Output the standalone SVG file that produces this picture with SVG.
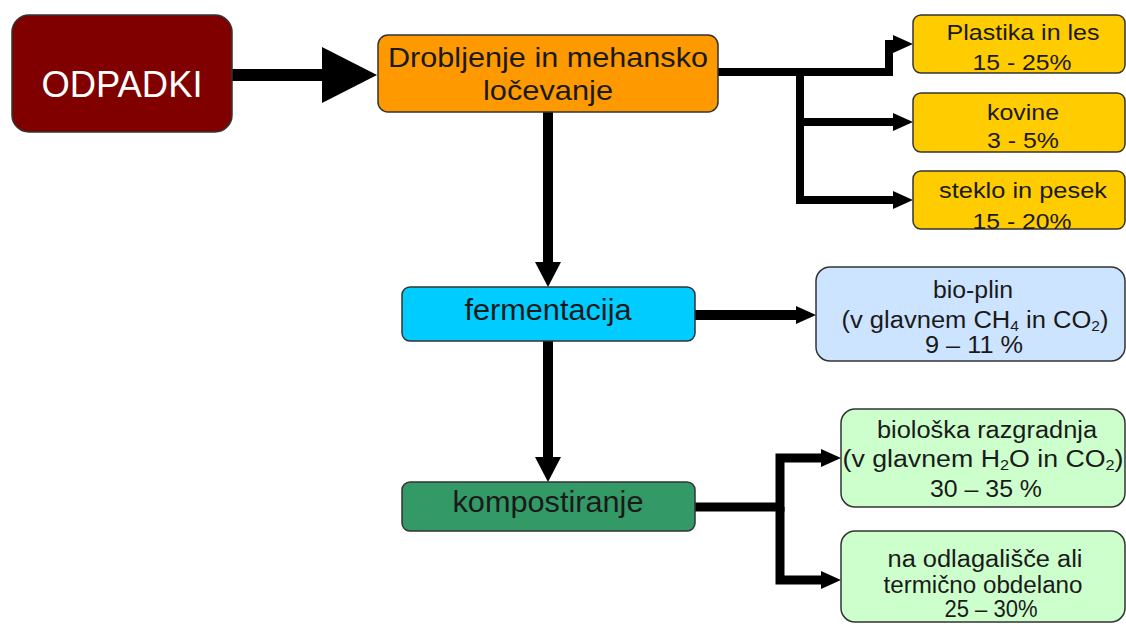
<svg xmlns="http://www.w3.org/2000/svg" width="1126" height="624" viewBox="0 0 1126 624">
<style>
.box{stroke:#333;stroke-width:1.5}
.t{font-family:"Liberation Sans",Arial,sans-serif;fill:#1a1a1a;text-anchor:middle}
.c{fill:none;stroke:#000;stroke-linejoin:miter;stroke-linecap:butt}
</style>
<defs>
<marker id="ahMain" markerUnits="userSpaceOnUse" markerWidth="56" markerHeight="56" refX="1" refY="28" orient="auto"><path d="M0,0 L55,28 L0,56 z" fill="#000"/></marker>
<marker id="ahBig" markerUnits="userSpaceOnUse" markerWidth="26" markerHeight="26" refX="1" refY="13" orient="auto"><path d="M0,0 L25,13 L0,26 z" fill="#000"/></marker>
<marker id="ah" markerUnits="userSpaceOnUse" markerWidth="20" markerHeight="20" refX="1" refY="9" orient="auto"><path d="M0,0 L20,9 L0,18 z" fill="#000"/></marker>
<clipPath id="cp1"><rect x="913" y="15" width="213" height="58"/></clipPath>
<clipPath id="cp2"><rect x="913" y="93" width="213" height="59"/></clipPath>
<clipPath id="cp3"><rect x="913" y="171" width="213" height="58"/></clipPath>
</defs>

<g id="connectors">
<path class="c" stroke-width="12" d="M232,75 H323" marker-end="url(#ahMain)"/>
<path class="c" stroke-width="8" d="M718,72 H889 V44 H894" marker-end="url(#ah)"/>
<path class="c" stroke-width="8" d="M800,72 V200 H894" marker-end="url(#ah)"/>
<path class="c" stroke-width="8" d="M800,122 H894" marker-end="url(#ah)"/>
<path class="c" stroke-width="10" d="M548,112 V263" marker-end="url(#ahBig)"/>
<path class="c" stroke-width="10" d="M695,315 H797" marker-end="url(#ah)"/>
<path class="c" stroke-width="10" d="M548,341 V458" marker-end="url(#ahBig)"/>
<path class="c" stroke-width="9" d="M695,507 H780 V458 H822" marker-end="url(#ah)"/>
<path class="c" stroke-width="9" d="M780,507 V580 H822" marker-end="url(#ah)"/>
</g>

<g id="odpadki">
<rect class="box" x="12" y="15" width="220" height="117" rx="17" fill="#800000"/>
<text class="t" x="122" y="97" font-size="36" textLength="161" lengthAdjust="spacingAndGlyphs" style="fill:#fff">ODPADKI</text>
</g>

<g id="drobljenje">
<rect class="box" x="378" y="35" width="340" height="77" rx="10" fill="#FF9900"/>
<text class="t" x="548" y="67" font-size="28" textLength="320" lengthAdjust="spacingAndGlyphs">Drobljenje in mehansko</text>
<text class="t" x="548" y="100" font-size="28" textLength="130" lengthAdjust="spacingAndGlyphs">ločevanje</text>
</g>

<g id="plastika">
<rect class="box" x="913" y="15" width="212" height="58" rx="8" fill="#FFCC00"/>
<g clip-path="url(#cp1)">
<text class="t" x="1023" y="40" font-size="22" textLength="153" lengthAdjust="spacingAndGlyphs">Plastika in les</text>
<text class="t" x="1022" y="70" font-size="22" textLength="99" lengthAdjust="spacingAndGlyphs">15 - 25%</text>
</g>
</g>

<g id="kovine">
<rect class="box" x="913" y="93" width="212" height="59" rx="8" fill="#FFCC00"/>
<g clip-path="url(#cp2)">
<text class="t" x="1023" y="120" font-size="22" textLength="72" lengthAdjust="spacingAndGlyphs">kovine</text>
<text class="t" x="1023" y="148" font-size="22" textLength="72" lengthAdjust="spacingAndGlyphs">3 - 5%</text>
</g>
</g>

<g id="steklo">
<rect class="box" x="913" y="171" width="212" height="58" rx="8" fill="#FFCC00"/>
<g clip-path="url(#cp3)">
<text class="t" x="1023" y="198" font-size="22" textLength="168" lengthAdjust="spacingAndGlyphs">steklo in pesek</text>
<text class="t" x="1022" y="229" font-size="22" textLength="99" lengthAdjust="spacingAndGlyphs">15 - 20%</text>
</g>
</g>

<g id="fermentacija">
<rect class="box" x="402" y="287" width="293" height="54" rx="8" fill="#00CCFF"/>
<text class="t" x="548" y="320" font-size="29" textLength="167" lengthAdjust="spacingAndGlyphs">fermentacija</text>
</g>

<g id="bioplin">
<rect class="box" x="816" y="267" width="309" height="94" rx="14" fill="#CCE4FF"/>
<text class="t" x="973" y="298" font-size="23" textLength="80" lengthAdjust="spacingAndGlyphs">bio-plin</text>
<text class="t" x="975" y="328" font-size="23" textLength="267" lengthAdjust="spacingAndGlyphs">(v glavnem CH<tspan font-size="14" dy="3">4</tspan><tspan dy="-3"> in CO</tspan><tspan font-size="14" dy="3">2</tspan><tspan dy="-3">)</tspan></text>
<text class="t" x="974" y="353" font-size="23" textLength="98" lengthAdjust="spacingAndGlyphs">9 – 11 %</text>
</g>

<g id="kompostiranje">
<rect class="box" x="402" y="482" width="293" height="49" rx="8" fill="#339966"/>
<text class="t" x="548" y="512" font-size="29" textLength="191" lengthAdjust="spacingAndGlyphs">kompostiranje</text>
</g>

<g id="bioloska">
<rect class="box" x="841" y="409" width="284" height="98" rx="14" fill="#CCFFCC"/>
<text class="t" x="987" y="438" font-size="23" textLength="220" lengthAdjust="spacingAndGlyphs">biološka razgradnja</text>
<text class="t" x="983" y="467" font-size="23" textLength="281" lengthAdjust="spacingAndGlyphs">(v glavnem H<tspan font-size="14" dy="3">2</tspan><tspan dy="-3">O in CO</tspan><tspan font-size="14" dy="3">2</tspan><tspan dy="-3">)</tspan></text>
<text class="t" x="986" y="497" font-size="23" textLength="112" lengthAdjust="spacingAndGlyphs">30 – 35 %</text>
</g>

<g id="odlagalisce">
<rect class="box" x="841" y="531" width="284" height="91" rx="14" fill="#CCFFCC"/>
<text class="t" x="985" y="567" font-size="23" textLength="195" lengthAdjust="spacingAndGlyphs">na odlagališče ali</text>
<text class="t" x="983" y="593" font-size="23" textLength="199" lengthAdjust="spacingAndGlyphs">termično obdelano</text>
<text class="t" x="991" y="617" font-size="23" textLength="93" lengthAdjust="spacingAndGlyphs">25 – 30%</text>
</g>
</svg>
